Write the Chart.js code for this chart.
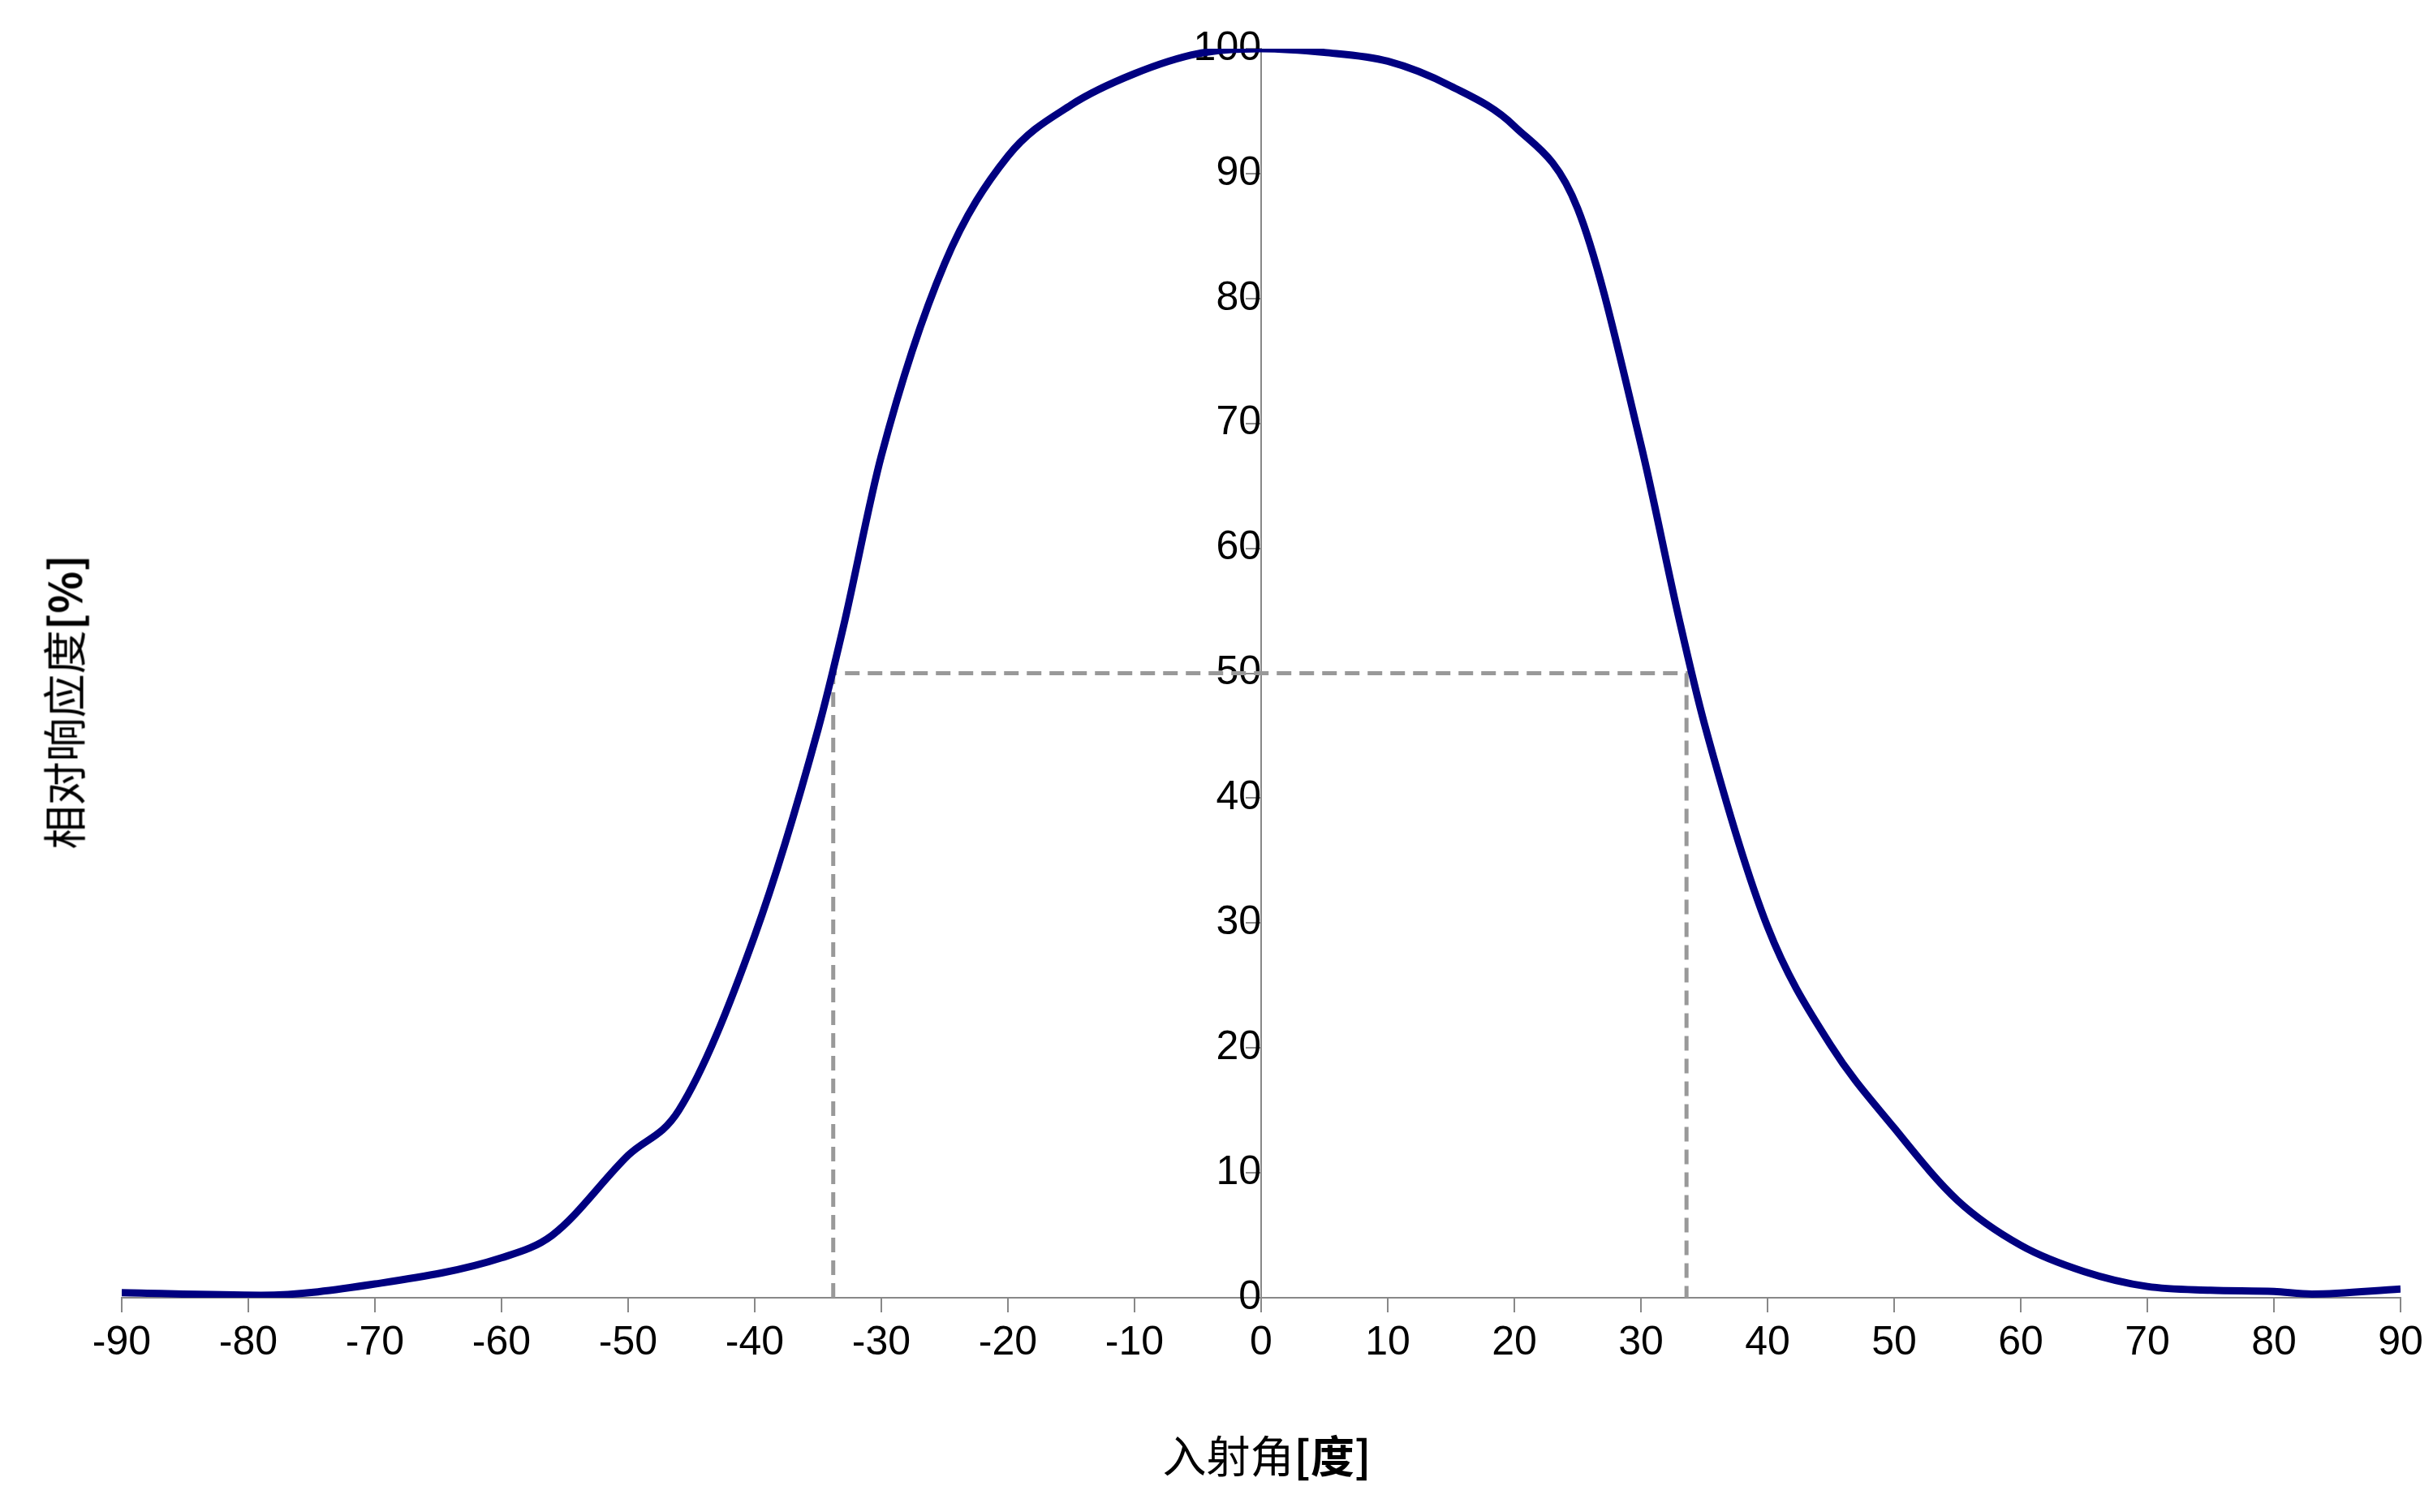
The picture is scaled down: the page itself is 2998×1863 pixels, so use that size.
<!DOCTYPE html>
<html><head><meta charset="utf-8">
<script src="https://cdn.jsdelivr.net/npm/chart.js@4/dist/chart.umd.min.js"></script>
<style>
html,body{margin:0;padding:0;background:#fff;}
#wrap{position:relative;width:2998px;height:1863px;}
.ttl{position:absolute;font-family:"Noto Sans CJK SC","Liberation Sans",sans-serif;font-size:54px;color:#000;white-space:nowrap;}
#xt{left:1561px;top:1791px;transform:translate(-50%,-50%);}
#yt{left:77px;top:865px;transform:translate(-50%,-50%) rotate(-90deg);}
</style></head>
<body><div id="wrap"><canvas id="c" width="2998" height="1863"></canvas>
<div class="ttl" id="xt">入射角<b>[度]</b></div>
<div class="ttl" id="yt">相对响应度<b>[%]</b></div></div>
<script>
// angle [deg] vs relative response [%]
var angles = [-90,-79,-70,-60,-56,-50,-46,-40,-35,-33,-30,-25,-20,-15,-10,-5,0,5,10,15,20,25,30,33,35,40,45,50,55,60,65,70,75,80,83,90];
var response = [0.4,0.2,1.1,3.2,5,11.4,15,29,45.5,53.7,67.4,82.8,91.4,95.5,98,99.6,100,99.7,99,97,93.8,87.2,68.3,54.4,46,29.7,20.2,13.6,7.8,4.2,2.1,0.9,0.6,0.5,0.3,0.7];
var halfX = [-33.8,-33.8,33.6,33.6];
var halfY = [0,50,50,0];
var xTicks = [-90,-80,-70,-60,-50,-40,-30,-20,-10,0,10,20,30,40,50,60,70,80,90];

var font = {family:'"Liberation Sans", Arial, sans-serif', size:50};
new Chart(document.getElementById('c'), {
    type: 'scatter',
    data: {datasets: [
        {data: angles.map(function (a, i) { return {x: a, y: response[i]}; }),
         showLine: true, borderColor: '#000080', borderWidth: 9, pointRadius: 0,
         cubicInterpolationMode: 'monotone'},
        {data: halfX.map(function (a, i) { return {x: a, y: halfY[i]}; }),
         showLine: true, borderColor: '#999999', borderWidth: 5, borderDash: [18, 10], pointRadius: 0}
    ]},
    options: {
        responsive: false, animation: false,
        layout: {padding: {left: 150, right: 40, top: 60, bottom: 170}},
        plugins: {legend: {display: false}, tooltip: {enabled: false}},
        scales: {
            x: {type: 'linear', min: -90, max: 90, position: 'bottom',
                afterBuildTicks: function (s) { s.ticks = xTicks.map(function (v) { return {value: v}; }); },
                grid: {drawOnChartArea: false, drawTicks: true, tickLength: 18, color: '#888', lineWidth: 2},
                border: {color: '#888', width: 2},
                ticks: {color: '#000', font: font, padding: 8, autoSkip: false, maxRotation: 0}},
            y: {type: 'linear', min: 0, max: 100, position: {x: 0},
                grid: {drawOnChartArea: false, drawTicks: true, tickLength: 18, color: '#888', lineWidth: 2},
                border: {color: '#888', width: 2},
                ticks: {stepSize: 10, color: '#000', font: font, padding: 8}}
        }
    }
});
</script></body></html>
